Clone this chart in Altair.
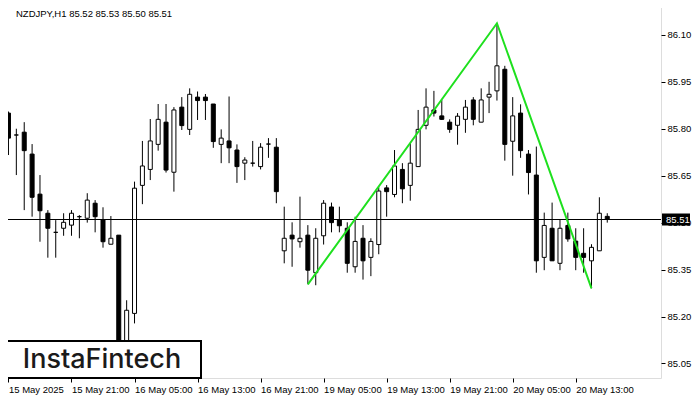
import json
import altair as alt
import pandas as pd

# ---- data ----
opens = [85.85, 85.78, 85.789, 85.719, 85.591, 85.530, 85.469, 85.482, 85.492, 85.519,
         85.514, 85.562, 85.510, 85.431, 85.46, 85.10, 85.21, 85.619, 85.670, 85.750,
         85.821, 85.661, 85.869, 85.798, 85.901, 85.901, 85.879, 85.750, 85.761, 85.732,
         85.690, 85.690, 85.679, 85.751, 85.741, 85.410, 85.460, 85.439, 85.460, 85.340,
         85.458, 85.550, 85.510, 85.482, 85.359, 85.450, 85.389, 85.430, 85.611, 85.590,
         85.670, 85.619, 85.679, 85.811, 85.860, 85.841, 85.821, 85.811, 85.830, 85.892,
         85.821, 85.901, 85.921, 85.990, 85.760, 85.850, 85.719, 85.652, 85.389, 85.482,
         85.370, 85.491, 85.441, 85.402, 85.378, 85.410, 85.52]
highs = [85.855, 85.80, 85.821, 85.751, 85.652, 85.54, 85.508, 85.530, 85.54, 85.524,
         85.594, 85.572, 85.549, 85.521, 85.46, 85.252, 85.631, 85.761, 85.831, 85.879,
         85.879, 85.869, 85.901, 85.929, 85.919, 85.911, 85.879, 85.798, 85.903, 85.750,
         85.709, 85.761, 85.754, 85.770, 85.770, 85.551, 85.501, 85.583, 85.492, 85.482,
         85.572, 85.564, 85.551, 85.501, 85.519, 85.492, 85.450, 85.613, 85.620, 85.732,
         85.690, 85.754, 85.860, 85.929, 85.921, 85.892, 85.830, 85.850, 85.892, 85.901,
         85.929, 85.950, 86.137, 86.001, 85.901, 85.878, 85.732, 85.743, 85.532, 85.564,
         85.510, 85.532, 85.482, 85.482, 85.431, 85.581, 85.53]
lows = [85.716, 85.652, 85.54, 85.519, 85.439, 85.388, 85.388, 85.458, 85.458, 85.45,
        85.50, 85.469, 85.42, 85.431, 85.07, 85.08, 85.178, 85.559, 85.636, 85.730,
        85.66, 85.599, 85.796, 85.78, 85.828, 85.828, 85.739, 85.690, 85.690, 85.627,
        85.636, 85.679, 85.670, 85.707, 85.562, 85.370, 85.359, 85.420, 85.303, 85.300,
        85.430, 85.469, 85.469, 85.340, 85.340, 85.318, 85.329, 85.399, 85.519, 85.581,
        85.562, 85.570, 85.679, 85.798, 85.839, 85.828, 85.787, 85.749, 85.787, 85.811,
        85.821, 85.850, 85.890, 85.698, 85.650, 85.707, 85.590, 85.340, 85.348, 85.378,
        85.348, 85.439, 85.348, 85.340, 85.290, 85.410, 85.50]
closes = [85.77, 85.78, 85.73, 85.581, 85.538, 85.482, 85.469, 85.501, 85.530, 85.519,
          85.572, 85.519, 85.439, 85.45, 85.10, 85.22, 85.61, 85.681, 85.761, 85.830,
          85.668, 85.860, 85.810, 85.910, 85.890, 85.890, 85.759, 85.770, 85.739, 85.679,
          85.700, 85.690, 85.741, 85.751, 85.599, 85.450, 85.448, 85.450, 85.348, 85.450,
          85.562, 85.500, 85.490, 85.370, 85.440, 85.378, 85.440, 85.601, 85.599, 85.681,
          85.608, 85.690, 85.798, 85.869, 85.850, 85.830, 85.798, 85.840, 85.869, 85.830,
          85.892, 85.910, 86.001, 85.750, 85.841, 85.730, 85.660, 85.378, 85.491, 85.378,
          85.482, 85.448, 85.389, 85.389, 85.421, 85.530, 85.51]

tick_bars = [0, 8, 16, 24, 32, 40, 48, 56, 64, 72]
tick_labels = ["15 May 2025", "15 May 21:00", "16 May 05:00", "16 May 13:00",
               "16 May 21:00", "19 May 05:00", "19 May 13:00", "19 May 21:00",
               "20 May 05:00", "20 May 13:00"]
price_ticks = [85.05, 85.20, 85.35, 85.50, 85.65, 85.80, 85.95, 86.10]

pattern_bars = [38, 62, 74]
pattern_prices = [85.303, 86.137, 85.290]

current_price = 85.51
symbol = "NZDJPY,H1"
brand = "InstaFintech"

FONT = "Liberation Sans"
FSIZE = 9.5

candles = pd.DataFrame({"i": list(range(len(opens))), "open": opens, "high": highs,
                        "low": lows, "close": closes})
pattern = pd.DataFrame({"i": pattern_bars, "price": pattern_prices})
one = pd.DataFrame({"k": [0]})  # single row for annotations

xscale = alt.Scale(domain=[-0.3125, 82.1875], nice=False, zero=False)
yscale = alt.Scale(domain=[85.0036, 86.2113], nice=False, zero=False)

label_expr = f"{json.dumps(tick_labels)}[indexof({json.dumps(tick_bars)}, datum.value)]"

x_axis = alt.Axis(values=tick_bars, labelExpr=label_expr, labelAlign="left",
                  labelPadding=2, tickSize=4, grid=False, domain=False,
                  labelFlush=False, labelOverlap=False, labelFont=FONT,
                  labelFontSize=FSIZE, labelColor="black", tickColor="black")
y_axis = alt.Axis(values=price_ticks, format=".2f", orient="right", tickSize=4,
                  labelPadding=2, grid=False, domain=False, labelFont=FONT,
                  labelFontSize=FSIZE, labelColor="black", tickColor="black")

base = alt.Chart(candles)

wicks = base.mark_rule(color="black", strokeWidth=1).encode(
    x=alt.X("i:Q", scale=xscale, axis=x_axis, title=None),
    y=alt.Y("low:Q", scale=yscale, axis=y_axis, title=None),
    y2="high:Q",
)

bodies = base.mark_bar(size=4, stroke="black", strokeWidth=1).encode(
    x=alt.X("i:Q", scale=xscale, title=None),
    y=alt.Y("open:Q", scale=yscale, title=None),
    y2="close:Q",
    fill=alt.condition("datum.close >= datum.open", alt.value("white"), alt.value("black")),
)

price_line = alt.Chart(one).mark_rule(color="black", strokeWidth=1).encode(
    y=alt.datum(current_price)
)

pattern_line = alt.Chart(pattern).mark_line(color="#1EE01E", strokeWidth=2).encode(
    x=alt.X("i:Q", scale=xscale, title=None),
    y=alt.Y("price:Q", scale=yscale, title=None),
)

logo_box = alt.Chart(one).mark_rect(fill="white", stroke="black", strokeWidth=2).encode(
    x=alt.value(2), x2=alt.value(200), y=alt.value(341), y2=alt.value(378)
)
logo_text = alt.Chart(one).mark_text(
    text=brand, font="Inter", fontSize=27, fontWeight=500, color="#1a1a1a",
    align="center", baseline="middle"
).encode(x=alt.value(101), y=alt.value(360))

header = alt.Chart(one).mark_text(
    text=f"{symbol}  {opens[-1]:.2f} {highs[-1]:.2f} {lows[-1]:.2f} {closes[-1]:.2f}",
    font=FONT, fontSize=FSIZE, color="black", align="left", baseline="top"
).encode(x=alt.value(15), y=alt.value(9))

label_bg = alt.Chart(one).mark_rule(color="black", strokeWidth=12).encode(
    x=alt.value(661), x2=alt.value(689), y=alt.datum(current_price)
)
label_txt = alt.Chart(one).mark_text(
    text=f"{current_price:.2f}", font=FONT, fontSize=FSIZE, color="white",
    align="left", baseline="middle"
).encode(x=alt.value(665), y=alt.datum(current_price))

chart = alt.layer(
    wicks, bodies, price_line, pattern_line, logo_box, logo_text, header, label_bg, label_txt
).properties(
    width=660, height=378,
    autosize=alt.AutoSizeParams(type="none"),
    padding={"left": -7, "top": -8, "right": 31, "bottom": 20},
).configure_view(stroke="black", strokeWidth=1).configure(background="white")

chart.save("out.html", embed_options={"renderer": "svg", "actions": False})
